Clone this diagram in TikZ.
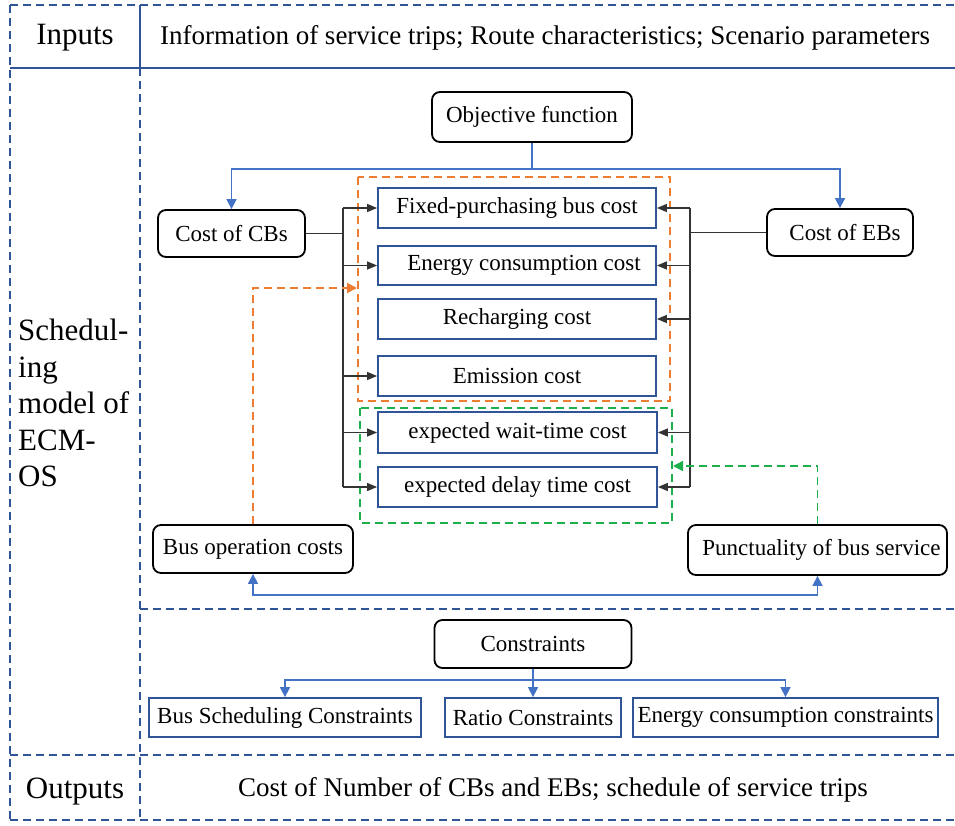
\documentclass[tikz,border=0pt]{standalone}
\usepackage{fontspec}
\setmainfont{Liberation Serif}
\usetikzlibrary{arrows.meta}
\definecolor{frameblue}{HTML}{2F5597}
\definecolor{lineblue}{HTML}{4472C4}
\definecolor{orng}{HTML}{ED7D31}
\definecolor{grn}{HTML}{1DB04A}
\begin{document}
\begin{tikzpicture}[x=1pt,y=-1pt,
 frame/.style={draw=frameblue, line width=1.8pt},
 fdash/.style={frame, dash pattern=on 8pt off 5pt},
 rbox/.style={draw=black, line width=1.8pt, rounded corners=8pt, font=\fontsize{23}{27}\selectfont, inner sep=0pt},
 bbox/.style={draw=frameblue, line width=1.8pt, font=\fontsize{23}{27}\selectfont, inner sep=0pt},
 blk/.style={draw=black!80, line width=1.3pt},
 blkarr/.style={blk, -{Triangle[length=10pt,width=8pt]}},
 bluarr/.style={draw=lineblue, line width=1.6pt, -{Triangle[length=10pt,width=10pt]}},
 bludbl/.style={draw=lineblue, line width=1.6pt, {Triangle[length=10pt,width=10pt]}-{Triangle[length=10pt,width=10pt]}},
 orbox/.style={draw=orng, line width=1.6pt, dash pattern=on 8pt off 5pt},
 grbox/.style={draw=grn, line width=1.6pt, dash pattern=on 8pt off 5pt},
 orarr/.style={orbox, -{Triangle[length=10pt,width=10pt]}},
 grarr/.style={grbox, -{Triangle[length=10pt,width=10pt]}},
 big/.style={font=\fontsize{31}{36.5}\selectfont, inner sep=0pt},
 mid/.style={font=\fontsize{27}{32}\selectfont, inner sep=0pt}
]
\useasboundingbox (0,0) rectangle (955,825);
% frame
\draw[fdash] (10,5) -- (955,5);
\draw[fdash] (10,5) -- (10,820);
\draw[frame] (10,68) -- (955,68);
\draw[frame] (140,5) -- (140,68);
\draw[fdash] (140,68) -- (140,820);
\draw[fdash] (140,609) -- (955,609);
\draw[fdash] (10,755) -- (955,755);
\draw[fdash] (10,820) -- (955,820);
% header texts
\node[big] (inp) at (75,38) {Inputs};
\node[mid] (info) at (545,38) {Information of service trips; Route characteristics; Scenario parameters};
\node[big, anchor=west, align=left] (sched) at (18,403) {Schedul-\\ing\\model of\\ECM-\\OS};
\node[big] (outp) at (75,792) {Outputs};
\node[mid] (outtxt) at (553,790) {Cost of Number of CBs and EBs; schedule of service trips};
% group boxes
\draw[orbox] (358,177) rectangle (670,401);
\draw[grbox] (360,408) rectangle (672,523);
% nodes
\node[rbox, minimum width=200pt, minimum height=50pt] (obj) at (532,117) {Objective function};
\node[rbox, minimum width=147pt, minimum height=47pt] (cbs) at (231.5,233.5) {Cost of CBs};
\node[rbox, minimum width=146pt, minimum height=47pt] (ebs) at (840,232.5) {\hspace{10pt}Cost of EBs};
\node[bbox, minimum width=278pt, minimum height=40pt] (fix) at (517,208) {Fixed-purchasing bus cost};
\node[bbox, minimum width=278pt, minimum height=39pt] (ene) at (517,265.5) {\hspace{14pt}Energy consumption cost};
\node[bbox, minimum width=278pt, minimum height=40pt] (rec) at (517,319) {Recharging cost};
\node[bbox, minimum width=278pt, minimum height=40pt] (emi) at (517,376) {Emission cost};
\node[bbox, minimum width=279pt, minimum height=41pt] (wait) at (517.5,432.5) {expected wait-time cost};
\node[bbox, minimum width=279pt, minimum height=40pt] (delay) at (517.5,487) {expected delay time cost};
\node[rbox, minimum width=200pt, minimum height=48pt] (bop) at (253,549) {Bus operation costs};
\node[rbox, minimum width=259pt, minimum height=50pt] (pun) at (817.5,550) {\hspace{8pt}Punctuality of bus service};
\node[rbox, minimum width=197pt, minimum height=48pt] (cons) at (533,644) {Constraints};
\node[bbox, minimum width=272pt, minimum height=39pt] (bsc) at (285,717.5) {Bus Scheduling Constraints};
\node[bbox, minimum width=176pt, minimum height=39pt] (rat) at (533,717.5) {Ratio Constraints};
\node[bbox, minimum width=305pt, minimum height=39pt] (ecc) at (785.5,717.5) {Energy consumption constraints};
% objective connectors
\draw[bluarr] (obj.south) -- ++(0,26) -| (cbs.north);
\draw[bluarr] (obj.south) -- ++(0,26) -| (ebs.north);
% left bus
\coordinate (lbus) at (343,0);
\draw[blk] (cbs.east) -- (lbus |- cbs.east);
\draw[blk] (lbus |- fix.west) -- (lbus |- delay.west);
\foreach \n in {fix,ene,emi,wait,delay} \draw[blkarr] (lbus |- \n.west) -- (\n.west);
% right bus
\coordinate (rbus) at (690,0);
\draw[blk] (ebs.west) -- (rbus |- ebs.west);
\draw[blk] (rbus |- fix.east) -- (rbus |- delay.east);
\foreach \n in {fix,ene,rec,wait,delay} \draw[blkarr] (rbus |- \n.east) -- (\n.east);
% dashed feedback
\coordinate (oin) at (357,288);
\draw[orarr] (bop.north) |- (oin);
\coordinate (gin) at (673,466);
\draw[grarr] (pun.north) |- (gin);
% bottom double arrow
\draw[bludbl] (bop.south) -- ++(0,21) -| (pun.south);
% constraints
\draw[bluarr] (cons.south) -- ++(0,11) -| (bsc.north);
\draw[bluarr] (cons.south) -- ++(0,11) -| (ecc.north);
\draw[bluarr] (cons.south) -- (rat.north);
\end{tikzpicture}
\end{document}
